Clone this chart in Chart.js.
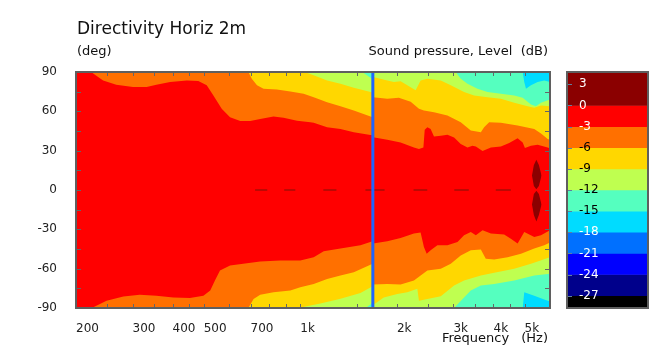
<!DOCTYPE html>
<html lang="en">
<head>
<meta charset="UTF-8">
<title>Directivity Horiz 2m</title>
<script src="https://cdn.jsdelivr.net/npm/chart.js"></script>
<style>
  body { margin: 0; background: #fff; }
  #wrap { position: relative; width: 666px; height: 351px; font-family: 'DejaVu Sans', sans-serif; color: #111; }
  #wrap canvas { position: absolute; top: 0; }
  .lbl { position: absolute; line-height: 1; white-space: pre; }
</style>
</head>
<body>
<div id="wrap">
  <canvas id="dirChart" width="666" height="351" style="left:0"></canvas>
  <canvas id="scaleChart" width="106" height="351" style="left:560px"></canvas>
  <div class="lbl" style="left:77px; top:20px; font-size:17px">Directivity Horiz 2m</div>
  <div class="lbl" style="left:77px; top:44px; font-size:13px">(deg)</div>
  <div class="lbl" style="right:118px; top:44px; font-size:13px">Sound pressure, Level  (dB)</div>
  <div class="lbl" style="left:442px; top:331px; font-size:13px">Frequency</div>
  <div class="lbl" style="right:118px; top:331px; font-size:13px">(Hz)</div>
</div>
<script>
// colour scale: band edges in dB (top first) and band colours
const levelEdges = [4.75, 0, -3, -6, -9, -12, -15, -18, -21, -24, -27, -28.75];
const levelColors = ['#8b0000', '#ff0000', '#ff7000', '#ffd700', '#bfff50', '#55ffbf', '#00dcff', '#0070ff', '#0000ff', '#00008b', '#000000'];
const levelLabels = [3, 0, -3, -6, -9, -12, -15, -18, -21, -24, -27];
const darkText = [-6, -9, -12, -15];

// axes
const xLabelVals = [200, 300, 400, 500, 700, 1000, 2000, 3000, 4000, 5000];
const xMarks = [250, 300, 350, 400, 450, 500, 600, 700, 800, 900, 1000, 1500, 2000, 2500, 3000, 3500, 4000, 4500, 5000];
const yLabelVals = [-90, -60, -30, 0, 30, 60, 90];
const yMarks = [-75, -60, -45, -30, -15, 0, 15, 30, 45, 60, 75];

// contour lines [freq Hz, angle deg], upper half (up) and lower half (lo)
const up3 = [[223,90],[232,86.9],[243,83.6],[267,80.3],[301,78.5],[332,78.5],[356,80.3],[393,82.3],[443,83.6],[481,83.1],[511,79.8],[536,72.1],[569,61.9],[604,55.5],[650,52.7],[698,52.7],[750,54.2],[825,56],[887,55.2],[977,52.9],[1075,51.6],[1101,51.2],[1212,47.8],[1334,46.6],[1468,44],[1655,42],[1680,41.8],[1686,40.2],[1867,38.4],[2054,36.3],[2260,32.5],[2343,31.2],[2419,32.5],[2442,46],[2489,47.8],[2548,46.6],[2610,40.9],[2740,41.4],[2874,42.2],[3015,40.1],[3162,35.1],[3319,32.5],[3440,33.8],[3524,33.2],[3698,29.7],[3926,32.5],[4217,33.2],[4477,35.8],[4756,39.4],[4932,36.3],[5012,32],[5234,33.8],[5490,34.5],[5902,32.5],[6000,31.7]];
const up6 = [[689,90],[706,84.9],[733,79.8],[768,77.3],[845,76.7],[931,75.2],[1024,73.4],[1101,70.8],[1212,67],[1334,63.9],[1468,60.6],[1680,55.5],[1686,70.8],[1867,69.6],[2028,70.4],[2208,67.3],[2343,61.9],[2428,60.6],[2610,59.3],[2874,56.8],[3162,51.6],[3399,45.3],[3653,44],[3740,47.8],[3878,51.6],[4217,51.2],[4756,49.1],[5359,46.6],[5624,43],[5902,38.9],[6000,38.4]];
const up9 = [[1030,90],[1101,87.5],[1212,83.6],[1334,81.1],[1468,78],[1680,74.4],[1686,86.2],[1867,83.6],[1957,82.3],[2054,82.9],[2155,79.8],[2288,76],[2371,83.6],[2489,84.9],[2740,83.6],[2944,79.8],[3238,74.7],[3480,72.1],[3832,70.8],[4217,69.6],[4642,66.5],[5112,63.9],[5359,62.7],[5624,64.4],[6000,63.9]];
const up12 = [[3050,90],[3162,84.9],[3319,81.1],[3566,77.3],[3832,74.7],[4217,73.4],[4642,72.1],[4932,70.4],[5234,65.2],[5424,63.9],[5624,66.5],[6000,69.1]];
const up12b = [[1560,90],[1680,84.5]];
const up15 = [[4932,90],[4988,82.3],[5050,77.3],[5234,79.8],[5490,82.3],[5757,83.6],[6000,82.3]];
const lo3 = [[224,-90],[249,-84.4],[281,-81.3],[316,-79.8],[356,-80.6],[402,-81.9],[453,-82.3],[499,-80.6],[524,-76.7],[542,-69.1],[562,-61.4],[604,-57.5],[673,-56],[750,-54.5],[866,-53.7],[1000,-53.7],[1101,-51.2],[1183,-46.8],[1334,-44.7],[1540,-42.2],[1680,-39.1],[1686,-40.9],[1867,-39.1],[2054,-36.6],[2260,-33.2],[2371,-32.5],[2428,-43.5],[2477,-48.6],[2548,-46],[2674,-42.2],[2874,-42.2],[3090,-39.7],[3238,-34.5],[3399,-32],[3524,-34.5],[3698,-30.7],[3926,-33.2],[4318,-34],[4530,-37.1],[4756,-40.9],[4988,-32],[5359,-35.8],[5624,-34.5],[6000,-30.7]];
const lo6 = [[689,-90],[715,-83.1],[750,-79.8],[825,-78],[931,-76.7],[1000,-74.2],[1101,-71.6],[1212,-67.8],[1334,-65.2],[1468,-62.7],[1680,-56.2],[1686,-72.1],[1867,-71.6],[2054,-72.1],[2260,-69.1],[2489,-61.4],[2740,-60.1],[2944,-56.2],[3162,-49.9],[3399,-46],[3653,-45.3],[3785,-52.4],[4020,-53],[4426,-51.2],[4872,-48.6],[5359,-44.7],[5757,-42.2],[6000,-40.1]];
const lo9 = [[985,-90],[1155,-86.5],[1334,-82.9],[1540,-78.5],[1680,-73.5],[1686,-87.7],[1820,-81.9],[2006,-79.3],[2155,-78],[2316,-75.4],[2343,-84.4],[2489,-83.1],[2740,-81.1],[3015,-72.9],[3238,-69.1],[3653,-65.2],[4020,-63.1],[4642,-60.1],[5234,-56.2],[6000,-51.2]];
const lo12 = [[3015,-90],[3238,-81.9],[3399,-76.7],[3653,-72.9],[4020,-71.6],[4642,-69.1],[5359,-65.2],[6000,-63.9]];
const lo12b = [[1600,-90],[1680,-86]];
const lo15 = [[4932,-90],[4988,-78],[5359,-80.6],[5757,-83.5],[6000,-85]];

// +3 dB spots near 5.4 kHz on axis
const blobFreq = [5272, 5345, 5441, 5539, 5647];
const blobUpTop = [11, 19, 23, 19, 11];
const blobUpBot = [11, 3, 0.5, 3, 11];
const blobLoTop = [-11, -3, -0.5, -3, -11];
const blobLoBot = [-11, -19, -24, -19, -11];

// 0 deg reference dashes and crossover marker
const zeroDashes = [[723,789],[891,965],[1180,1296],[1596,1831],[2254,2487],[3020,3350],[4066,4530]];
const crossoverHz = 1683;

Chart.defaults.font.family = "'DejaVu Sans', sans-serif";
Chart.defaults.font.size = 12;
Chart.defaults.color = '#222';

const toPts = arr => arr.map(([f, a]) => ({ x: f, y: a }));
const hidden = 'rgba(0,0,0,0)';

// fill order bottom -> top
const layers = [
  [up3, 2, 'end'], [lo3, 2, 'start'],
  [up6, 3, 'end'], [lo6, 3, 'start'],
  [up9, 4, 'end'], [lo9, 4, 'start'],
  [up12, 5, 'end'], [lo12, 5, 'start'], [up12b, 5, 'end'], [lo12b, 5, 'start'],
  [up15, 6, 'end'], [lo15, 6, 'start']
];
const datasets = layers.map((l, i) => ({
  data: toPts(l[0]), fill: l[2], backgroundColor: levelColors[l[1]],
  borderColor: hidden, borderWidth: 0, order: 100 - i
}));

const blobPts = vals => blobFreq.map((f, i) => ({ x: f, y: vals[i] }));
datasets.push(
  { data: blobPts(blobUpTop), fill: '+1', backgroundColor: levelColors[0], borderColor: hidden, borderWidth: 0, order: 20 },
  { data: blobPts(blobUpBot), fill: false, borderColor: hidden, borderWidth: 0, order: 20 },
  { data: blobPts(blobLoTop), fill: '+1', backgroundColor: levelColors[0], borderColor: hidden, borderWidth: 0, order: 20 },
  { data: blobPts(blobLoBot), fill: false, borderColor: hidden, borderWidth: 0, order: 20 }
);

const dashPts = [];
zeroDashes.forEach(([a, b]) => { dashPts.push({ x: a, y: 0 }, { x: b, y: 0 }, { x: b + 1, y: null }); });
datasets.push({ data: dashPts, fill: false, borderColor: '#7a1208', borderWidth: 1, order: 5 });
datasets.push({ data: [{ x: crossoverHz, y: -90 }, { x: crossoverHz, y: 90 }], fill: false, borderColor: '#1e64ff', borderWidth: 3, order: 1 });

const plotFrame = {
  id: 'plotFrame',
  beforeDatasetsDraw(chart) {
    const { ctx, chartArea: a } = chart;
    ctx.save();
    ctx.fillStyle = levelColors[1];
    ctx.fillRect(a.left, a.top, a.right - a.left, a.bottom - a.top);
    ctx.restore();
  },
  afterDatasetsDraw(chart) {
    const { ctx, chartArea: a, scales: { x, y } } = chart;
    ctx.save();
    ctx.strokeStyle = '#666';
    ctx.lineWidth = 1;
    ctx.beginPath();
    xMarks.forEach(v => {
      const px = Math.round(x.getPixelForValue(v)) + 0.5;
      ctx.moveTo(px, a.top); ctx.lineTo(px, a.top + 4);
      ctx.moveTo(px, a.bottom); ctx.lineTo(px, a.bottom - 4);
    });
    yMarks.forEach(v => {
      const py = Math.round(y.getPixelForValue(v)) + 0.5;
      ctx.moveTo(a.left, py); ctx.lineTo(a.left + 5, py);
      ctx.moveTo(a.right, py); ctx.lineTo(a.right - 5, py);
    });
    ctx.stroke();
    ctx.lineWidth = 2;
    ctx.strokeStyle = '#5f5f5f';
    ctx.strokeRect(a.left, a.top, a.right - a.left, a.bottom - a.top);
    ctx.restore();
  }
};

new Chart(document.getElementById('dirChart'), {
  type: 'line',
  data: { datasets },
  options: {
    responsive: false,
    animation: false,
    layout: { padding: { left: 0, top: 72, right: 116, bottom: 0 } },
    plugins: { legend: { display: false }, tooltip: { enabled: false } },
    elements: { point: { radius: 0 }, line: { tension: 0 } },
    scales: {
      x: {
        type: 'logarithmic', min: 200, max: 6000,
        grid: { display: false }, border: { display: false },
        afterBuildTicks: s => { s.ticks = xLabelVals.map(v => ({ value: v })); },
        afterFit: s => { s.height = 43; },
        ticks: {
          align: 'start', padding: 6, maxRotation: 0, autoSkip: false,
          callback: v => v >= 1000 ? (v / 1000) + 'k' : String(v)
        }
      },
      y: {
        min: -90, max: 90,
        grid: { display: false }, border: { display: false },
        afterBuildTicks: s => { s.ticks = yLabelVals.map(v => ({ value: v })); },
        afterFit: s => { s.width = 76; },
        ticks: { padding: 11 }
      }
    }
  },
  plugins: [plotFrame]
});

// colour bar
const barFrame = {
  id: 'barFrame',
  afterDatasetsDraw(chart) {
    const { ctx, chartArea: a, scales: { y } } = chart;
    ctx.save();
    ctx.strokeStyle = '#5f7f9f';
    ctx.lineWidth = 1;
    ctx.beginPath();
    levelLabels.forEach(v => {
      const py = Math.round(y.getPixelForValue(v)) + 0.5;
      ctx.moveTo(a.left, py); ctx.lineTo(a.left + 5, py);
    });
    ctx.stroke();
    ctx.lineWidth = 2;
    ctx.strokeStyle = '#5f5f5f';
    ctx.strokeRect(a.left, a.top, a.right - a.left, a.bottom - a.top);
    ctx.restore();
  }
};

new Chart(document.getElementById('scaleChart'), {
  type: 'bar',
  data: {
    labels: ['dB'],
    datasets: levelColors.map((c, i) => ({
      data: [[levelEdges[i + 1], levelEdges[i]]],
      backgroundColor: c, borderWidth: 0, grouped: false,
      barPercentage: 1, categoryPercentage: 1
    }))
  },
  options: {
    responsive: false,
    animation: false,
    layout: { padding: { left: 7, top: 72, right: 18, bottom: 43 } },
    plugins: { legend: { display: false }, tooltip: { enabled: false } },
    scales: {
      x: { display: false },
      y: {
        min: levelEdges[levelEdges.length - 1], max: levelEdges[0],
        grid: { display: false }, border: { display: false },
        afterBuildTicks: s => { s.ticks = levelLabels.map(v => ({ value: v })); },
        afterFit: s => { s.width = 0; },
        ticks: {
          mirror: true, padding: 12, z: 1,
          color: ctx => darkText.includes(ctx.tick.value) ? '#000' : '#fff'
        }
      }
    }
  },
  plugins: [barFrame]
});
</script>
</body>
</html>
